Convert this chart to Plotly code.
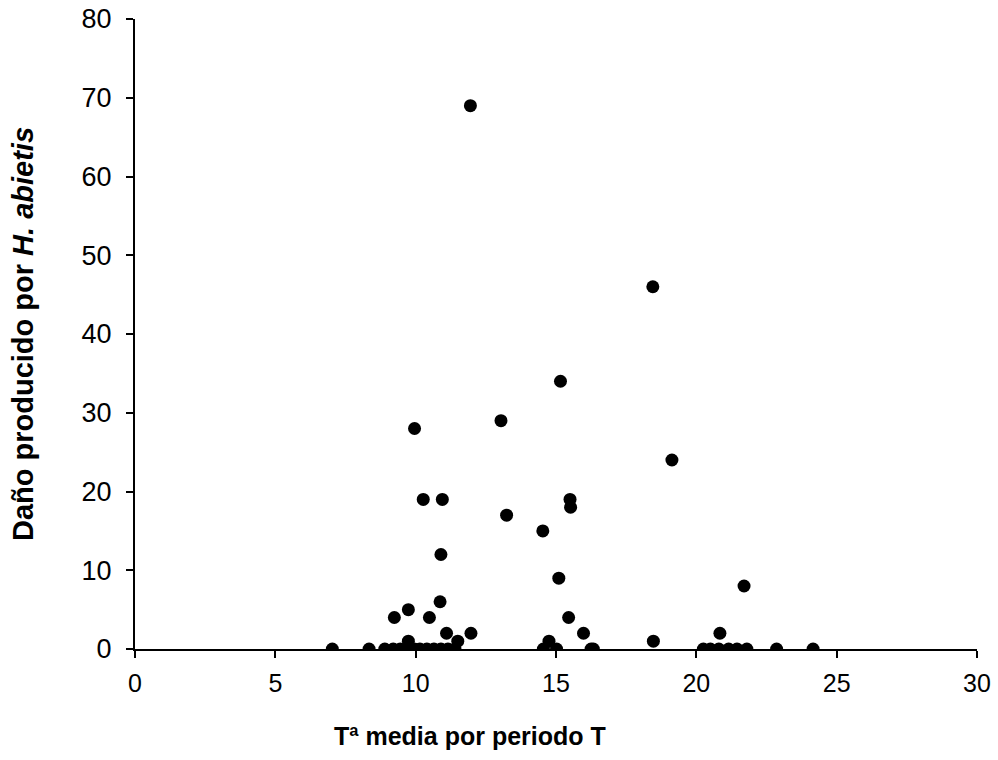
import plotly.graph_objects as go

# Temperatura media por periodo (T) and damage values
temp = [
    7.03, 8.34, 8.9, 9.2, 9.45, 9.7, 9.95, 10.15, 10.4, 10.65, 10.9, 11.15, 11.4,
    9.24, 9.74, 9.74, 10.49, 10.87, 11.1, 11.5, 11.97,
    9.96, 10.27, 10.95, 10.9, 11.95,
    13.04, 13.24, 14.53, 14.55, 14.75, 15.02, 15.1, 15.16, 15.45, 15.5, 15.52,
    15.98, 16.25, 16.33,
    18.45, 18.47, 19.13,
    20.25, 20.5, 20.84, 20.8, 21.15, 21.45, 21.7, 21.8, 22.86, 24.16,
]
dano = [
    0, 0, 0, 0, 0, 0, 0, 0, 0, 0, 0, 0, 0,
    4, 5, 1, 4, 6, 2, 1, 2,
    28, 19, 19, 12, 69,
    29, 17, 15, 0, 1, 0, 9, 34, 4, 19, 18,
    2, 0, 0,
    46, 1, 24,
    0, 0, 2, 0, 0, 0, 8, 0, 0, 0,
]

x_ticks = [0, 5, 10, 15, 20, 25, 30]
y_ticks = [0, 10, 20, 30, 40, 50, 60, 70, 80]

x_title = "<b>Tª media por periodo T</b>"
y_title = "<b>Daño producido por <i>H. abietis</i></b>"

fig = go.Figure(
    go.Scatter(
        x=temp, y=dano, mode="markers",
        marker=dict(color="black", size=13, line=dict(width=0)),
        showlegend=False,
    )
)

font = "Liberation Sans, Arial, sans-serif"
fig.update_layout(
    width=998, height=760,
    margin=dict(l=135, r=21, t=19, b=111),
    paper_bgcolor="white", plot_bgcolor="white",
    font=dict(family=font, size=20, color="black"),
    xaxis=dict(
        range=[0, 30], tickvals=x_ticks, ticktext=[str(v) for v in x_ticks],
        showgrid=False, zeroline=False, showline=True, linecolor="black", linewidth=2,
        ticks="outside", ticklen=7, tickwidth=2, tickcolor="black",
        tickfont=dict(size=25, family=font), ticklabelstandoff=4,
        automargin=False,
    ),
    yaxis=dict(
        range=[0, 80], tickvals=y_ticks, ticktext=[str(v) for v in y_ticks],
        showgrid=False, zeroline=False, showline=True, linecolor="black", linewidth=2,
        ticks="outside", ticklen=7, tickwidth=2, tickcolor="black",
        tickfont=dict(size=27, family=font), ticklabelstandoff=9,
        ticklabeloverflow="allow",
        title=dict(text=y_title, font=dict(size=29, family=font), standoff=39),
        automargin=False,
    ),
    annotations=[
        dict(
            text=x_title, xref="paper", yref="paper", x=0.398, y=-0.138,
            xanchor="center", yanchor="middle", showarrow=False,
            font=dict(size=25, family=font, color="black"),
        )
    ],
)

fig.write_html(
    "out.html",
    config={"displayModeBar": False},
    post_script="document.body.style.margin='0';",
)
